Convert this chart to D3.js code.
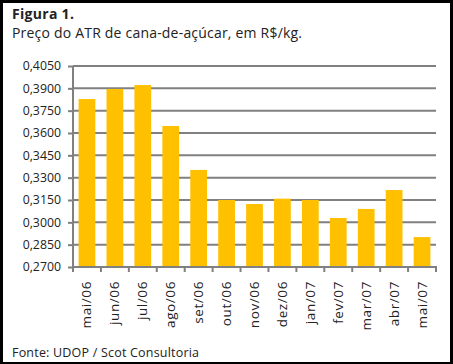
<!DOCTYPE html>
<html><head><meta charset="utf-8">
<script src="https://cdn.jsdelivr.net/npm/d3@7"></script>
<style>
html,body{margin:0;padding:0;background:#000;}
svg{display:block;}
text{font-family:"Open Sans",Lato,sans-serif;fill:#222;}
</style></head>
<body>
<script>
const categories = ["mai/06","jun/06","jul/06","ago/06","set/06","out/06","nov/06","dez/06","jan/07","fev/07","mar/07","abr/07","mai/07"];
const values = [0.3828,0.3896,0.3922,0.3647,0.3352,0.3150,0.3123,0.3159,0.3150,0.3029,0.3090,0.3217,0.2901];
const yTicks = [0.2700,0.2850,0.3000,0.3150,0.3300,0.3450,0.3600,0.3750,0.3900,0.4050];
const title1 = "Figura 1.";
const title2 = "Preço do ATR de cana-de-açúcar, em R$/kg.";
const source = "Fonte: UDOP / Scot Consultoria";

(function(){
const W = 453, H = 364;
const svg = d3.select("body").append("svg").attr("width", W).attr("height", H);
svg.append("rect").attr("x",0).attr("y",0).attr("width",W).attr("height",H).attr("fill","#000");
svg.append("rect").attr("x",3).attr("y",3).attr("width",W-6).attr("height",H-5).attr("fill","#fff");

svg.append("text").attr("x",12).attr("y",18.5).attr("font-size",14).attr("font-weight","bold").attr("letter-spacing",0.3).attr("fill","#111").text(title1);
svg.append("text").attr("x",12).attr("y",38).attr("font-size",14).attr("letter-spacing",0.2).attr("fill","#111").text(title2);
svg.append("text").attr("x",12).attr("y",357).attr("font-size",12.5).attr("letter-spacing",0.2).attr("fill","#222").text(source);

const pl = 73, pr = 436, pt = 66, pb = 267;
const x = d3.scaleBand().domain(categories).range([pl,pr]).paddingInner(0.4).paddingOuter(0.2);
const y = d3.scaleLinear().domain([0.27,0.405]).range([pb,pt]);
const fmt = d => d3.format(".4f")(d).replace(".",",");

svg.append("g").selectAll("line").data(yTicks.filter(t=>t>0.27)).join("line")
  .attr("x1",pl).attr("x2",pr).attr("y1",d=>y(d)).attr("y2",d=>y(d))
  .attr("stroke","#808080").attr("stroke-width",2);

svg.append("g").selectAll("rect").data(values).join("rect")
  .attr("x",(d,i)=>x(categories[i])).attr("width",x.bandwidth())
  .attr("y",d=>y(d)).attr("height",d=>pb-y(d)).attr("fill","#FFC000");

const yAxis = d3.axisLeft(y).tickValues(yTicks).tickFormat(fmt).tickSize(5).tickPadding(7);
const gy = svg.append("g").attr("transform",`translate(${pl},0)`).call(yAxis);
gy.select(".domain").attr("stroke","#808080").attr("stroke-width",2).attr("d",`M0,${pt}V${pb}`);
gy.selectAll(".tick line").attr("stroke","#808080").attr("stroke-width",2);
gy.selectAll(".tick text").attr("font-size",12.3).attr("fill","#333").attr("font-family","'Open Sans',Lato,sans-serif");

svg.append("line").attr("x1",pl-1).attr("x2",pr+1).attr("y1",pb).attr("y2",pb)
  .attr("stroke","#808080").attr("stroke-width",2);
const bounds = d3.range(categories.length+1).map(i=>pl + i*(pr-pl)/categories.length);
svg.append("g").selectAll("line").data(bounds).join("line")
  .attr("x1",d=>d).attr("x2",d=>d).attr("y1",pb).attr("y2",pb+5)
  .attr("stroke","#808080").attr("stroke-width",2);

svg.append("g").selectAll("text").data(categories).join("text")
  .attr("transform",d=>`translate(${x(d)+x.bandwidth()/2+4.5},${pb+14}) rotate(-90)`)
  .attr("text-anchor","end").attr("font-size",13.5).attr("letter-spacing",0.6).attr("fill","#333").text(d=>d);
})();
</script>
</body></html>
